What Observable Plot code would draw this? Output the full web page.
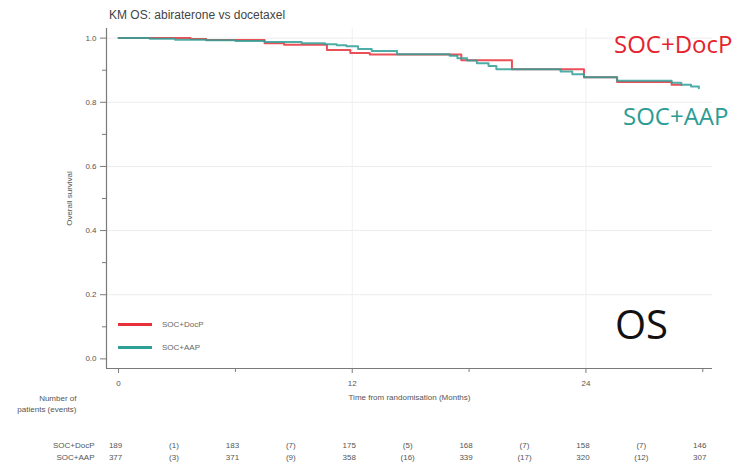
<!DOCTYPE html>
<html>
<head>
<meta charset="utf-8">
<script src="https://cdn.jsdelivr.net/npm/d3@7"></script>
<script src="https://cdn.jsdelivr.net/npm/@observablehq/plot@0.6"></script>
<style>
  body { margin: 0; background: #fff; }
  #wrap { position: relative; width: 740px; height: 471px; overflow: hidden; font-family: "Liberation Sans", Arial, sans-serif; }
  #wrap svg { position: absolute; left: 0; top: 0; }
  .abs { position: absolute; white-space: nowrap; }
  #title { left: 109px; top: 8px; font-size: 12px; color: #444; }
  .big { font-family: "Open Sans", sans-serif; font-size: 24px; line-height: 1; }
  #lblDoc { left: 614px; top: 32px; color: #e5232e; }
  #lblAap { left: 623px; top: 104px; color: #2b9c94; }
  #lblOs { left: 615px; top: 304px; font-family: "Open Sans", sans-serif; font-size: 40px; line-height: 1; color: #111; }
  .leg { position: absolute; left: 118px; display: flex; align-items: center; font-size: 8px; color: #666; }
  .leg span.sw { display: inline-block; width: 34px; height: 3px; margin-right: 10px; }
</style>
</head>
<body>
<div id="wrap"></div>
<script>
// ---- data ----
const docTimes = [0, 3.7, 4.5, 7.5, 8.5, 10.7, 11.9, 12.9, 17.6, 20.2, 23.9, 25.6, 28.4, 28.9];
const docSurv  = [1.0, 0.997, 0.994, 0.984, 0.979, 0.963, 0.954, 0.949, 0.931, 0.903, 0.878, 0.863, 0.855, 0.854];

const aapTimes = [0, 1.6, 2.9, 4.5, 6.0, 7.5, 9.4, 10.6, 11.2, 11.7, 12.3, 13.0, 14.3, 17.0, 17.4, 17.9, 18.4, 19.0, 19.4, 22.7, 23.3, 23.9, 25.6, 28.4, 28.9, 29.4, 29.8];
const aapSurv  = [1.0, 0.998, 0.995, 0.993, 0.991, 0.988, 0.984, 0.981, 0.978, 0.975, 0.966, 0.96, 0.95, 0.945, 0.937, 0.93, 0.922, 0.913, 0.903, 0.896, 0.887, 0.878, 0.867, 0.861, 0.855, 0.849, 0.844];

const xTicks = [0, 12, 24];
const xMinorTicks = [6, 18, 30];
const yTicks = [0, 0.2, 0.4, 0.6, 0.8, 1.0];
const yMinorTicks = [0.1, 0.3, 0.5, 0.7, 0.9];
const xGrid = [12, 24];
const yGrid = [0.2, 0.4, 0.6, 0.8, 1.0];
const xDomain = [-0.62, 30.5];
const yDomain = [-0.03, 1.03];

const riskTimes = [0, 6, 12, 18, 24, 30];
const docAtRisk = [189, 183, 175, 168, 158, 146];
const aapAtRisk = [377, 371, 358, 339, 320, 307];
const eventTimes = [3, 9, 15, 21, 27];
const docEvents = [1, 7, 5, 7, 7];
const aapEvents = [3, 9, 16, 17, 12];

const armNames = ["SOC+DocP", "SOC+AAP"];
const armColors = ["#e8303a", "#2fa098"];

// ---- build tables ----
const curve = (times, surv, arm) => times.map((t, i) => ({t, s: surv[i], arm}));
const kmData = [...curve(docTimes, docSurv, armNames[0]), ...curve(aapTimes, aapSurv, armNames[1])];
const riskRows = [
  ...riskTimes.map((t, i) => ({t, txt: String(docAtRisk[i]), row: 0})),
  ...eventTimes.map((t, i) => ({t, txt: `(${docEvents[i]})`, row: 0})),
  ...riskTimes.map((t, i) => ({t, txt: String(aapAtRisk[i]), row: 1})),
  ...eventTimes.map((t, i) => ({t, txt: `(${aapEvents[i]})`, row: 1}))
];

const axisColor = "#7a7a7a";
const tickText = "#555";

const chart = Plot.plot({
  width: 740,
  height: 471,
  marginLeft: 106,
  marginRight: 28,
  marginTop: 28,
  marginBottom: 103,
  style: {fontFamily: "Liberation Sans, Arial, sans-serif", fontSize: "8px", color: tickText, background: "white"},
  x: {domain: xDomain},
  y: {domain: yDomain},
  color: {domain: armNames, range: armColors},
  marks: [
    Plot.ruleY(yGrid, {y: d => d, stroke: "#ececec", strokeWidth: 1}),
    Plot.ruleX(xGrid, {x: d => d, stroke: "#efefef", strokeWidth: 1}),
    // axis lines
    Plot.ruleX([xDomain[0]], {x: d => d, stroke: axisColor, strokeWidth: 1.2}),
    Plot.ruleY([yDomain[0]], {y: d => d, stroke: axisColor, strokeWidth: 1.2}),
    // axes
    Plot.axisX(xTicks, {anchor: "bottom", tickSize: 5, tickPadding: 7, stroke: axisColor, fill: tickText, fontSize: 8,
      label: "Time from randomisation (Months)", labelAnchor: "center", labelArrow: "none", labelOffset: 31}),
    Plot.axisX(xMinorTicks, {anchor: "bottom", tickSize: 4, stroke: axisColor, text: null, label: null}),
    Plot.axisY(yTicks, {anchor: "left", tickSize: 6, tickPadding: 4, stroke: axisColor, fill: tickText, fontSize: 8,
      tickFormat: d3.format(".1f"), label: "Overall survival", labelAnchor: "center", labelArrow: "none", labelOffset: 40}),
    Plot.axisY(yMinorTicks, {anchor: "left", tickSize: 4, stroke: axisColor, text: null, label: null}),
    // KM curves
    Plot.line(kmData, {x: "t", y: "s", z: "arm", stroke: "arm", curve: "step-after", strokeWidth: 2, strokeOpacity: 0.85}),
    // risk table header
    Plot.text(["Number of"], {frameAnchor: "bottom-left", dx: -30, dy: 32, textAnchor: "end", fill: "#555", fontSize: 8}),
    Plot.text(["patients (events)"], {frameAnchor: "bottom-left", dx: -30, dy: 43, textAnchor: "end", fill: "#555", fontSize: 8}),
    Plot.text([armNames[0]], {frameAnchor: "bottom-left", dx: -12, dy: 79, textAnchor: "end", fill: "#555", fontSize: 8}),
    Plot.text([armNames[1]], {frameAnchor: "bottom-left", dx: -12, dy: 91, textAnchor: "end", fill: "#555", fontSize: 8}),
    Plot.text(riskRows.filter(d => d.row === 0), {x: "t", text: "txt", frameAnchor: "bottom", dx: -3, dy: 79, fill: "#555", fontSize: 8}),
    Plot.text(riskRows.filter(d => d.row === 1), {x: "t", text: "txt", frameAnchor: "bottom", dx: -3, dy: 91, fill: "#555", fontSize: 8})
  ]
});

const wrap = document.getElementById("wrap");
wrap.appendChild(chart);

function addDiv(id, cls, text) {
  const d = document.createElement("div");
  if (id) d.id = id;
  d.className = cls;
  d.textContent = text;
  wrap.appendChild(d);
  return d;
}
addDiv("title", "abs", "KM OS: abiraterone vs docetaxel");
addDiv("lblDoc", "abs big", armNames[0]);
addDiv("lblAap", "abs big", armNames[1]);
addDiv("lblOs", "abs", "OS");

armNames.forEach((name, i) => {
  const row = document.createElement("div");
  row.className = "leg";
  row.style.top = (320 + i * 23) + "px";
  const sw = document.createElement("span");
  sw.className = "sw";
  sw.style.background = armColors[i];
  row.appendChild(sw);
  row.appendChild(document.createTextNode(name));
  wrap.appendChild(row);
});
</script>
</body>
</html>
